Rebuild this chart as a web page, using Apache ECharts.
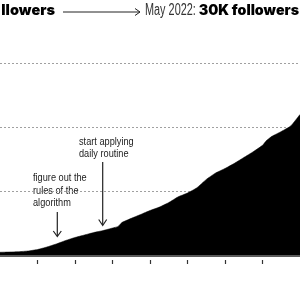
<!DOCTYPE html>
<html>
<head>
<meta charset="utf-8">
<script src="https://cdn.jsdelivr.net/npm/echarts@6/dist/echarts.min.js"></script>
<style>
html,body{margin:0;padding:0;background:#fff;}
#chart{width:300px;height:300px;}
</style>
</head>
<body>
<div id="chart"></div>
<script>
// time position in tick units, follower count in thousands
var timeSteps = [0, 0.25, 0.5, 0.75, 1, 1.25, 1.5, 1.75, 2, 2.25, 2.5, 2.75, 3, 3.15, 3.25, 3.5, 3.75, 4, 4.25, 4.5, 4.75, 5, 5.25, 5.5, 5.75, 6, 6.25, 6.5, 6.75, 7, 7.1, 7.25, 7.5, 7.75, 8];
var followersK = [0.58, 0.62, 0.67, 0.78, 1.01, 1.40, 1.87, 2.41, 2.88, 3.26, 3.65, 3.96, 4.35, 4.6, 5.2, 5.85, 6.45, 7.07, 7.6, 8.3, 9.2, 9.79, 10.6, 11.9, 12.9, 13.6, 14.4, 15.3, 16.2, 17.2, 17.9, 18.6, 19.35, 20.2, 22.0];
var tickPositions = [1, 2, 3, 4, 5, 6, 7];
var yTicks = [0, 10, 20, 30];
var titleLeft = 'llowers';
var titleDate = 'May 2022:';
var titleRight = '30K followers';
var note1 = 'figure out the\nrules of the\nalgorithm';
var note2 = 'start applying\ndaily routine';

var narrow = "'Liberation Sans', sans-serif";
var bold = "'Inter', 'Roboto', sans-serif";

var chart = echarts.init(document.getElementById('chart'), null, {renderer: 'canvas'});
var data = timeSteps.map(function (t, i) { return [t, followersK[i]]; });

chart.setOption({
  animation: false,
  backgroundColor: '#fff',
  grid: {left: -1.6, right: -5.1, top: 63, bottom: 44, containLabel: false},
  xAxis: [{
    type: 'value', min: 0, max: 8, interval: 1, z: 5,
    axisLine: {show: true, lineStyle: {color: '#5a5a5a', width: 2}},
    axisTick: {show: false}, axisLabel: {show: false}, splitLine: {show: false}
  }, {
    type: 'value', min: 0, max: 8, interval: 1, position: 'bottom', offset: 4,
    axisLine: {show: false},
    axisTick: {show: true, length: 4, customValues: tickPositions, lineStyle: {color: '#333', width: 1.2}},
    axisLabel: {show: false}, splitLine: {show: false}
  }],
  yAxis: {
    type: 'value', min: yTicks[0], max: yTicks[yTicks.length - 1], interval: 10,
    axisLine: {show: false}, axisTick: {show: false}, axisLabel: {show: false},
    splitLine: {show: true, lineStyle: {color: '#a0a0a0', width: 1, type: [2, 2]}}
  },
  series: [{
    type: 'line', xAxisIndex: 0, data: data, showSymbol: false, smooth: 0.15,
    lineStyle: {width: 0.5, color: '#000'},
    areaStyle: {color: '#000', opacity: 1}
  }],
  graphic: [
    {type: 'text', x: 55, y: 11, style: {text: titleLeft, fontFamily: bold, fontWeight: 900, fontSize: 14.5, fill: '#000', align: 'right', verticalAlign: 'middle'}},
    {type: 'line', shape: {x1: 63, y1: 12, x2: 140, y2: 12}, style: {stroke: '#222', lineWidth: 1}},
    {type: 'polyline', shape: {points: [[135, 8.5], [140, 12], [135, 15.5]]}, style: {stroke: '#222', lineWidth: 1, fill: null}},
    {type: 'text', x: 145, y: 11, scaleX: 0.68, style: {text: titleDate, fontFamily: narrow, fontSize: 16, fill: '#333', align: 'left', verticalAlign: 'middle'}},
    {type: 'text', x: 299, y: 11, style: {text: titleRight, fontFamily: bold, fontWeight: 900, fontSize: 14.2, fill: '#000', align: 'right', verticalAlign: 'middle'}},
    {type: 'text', x: 33, y: 172, scaleX: 0.8, style: {text: note1, fontFamily: narrow, fontSize: 11.5, lineHeight: 12.3, fill: '#222', align: 'left', verticalAlign: 'top'}},
    {type: 'line', shape: {x1: 57.3, y1: 212, x2: 57.3, y2: 236}, style: {stroke: '#222', lineWidth: 1.2}},
    {type: 'polyline', shape: {points: [[53.3, 231], [57.3, 236.5], [61.3, 231]]}, style: {stroke: '#222', lineWidth: 1.2, fill: null}},
    {type: 'text', x: 79, y: 135.5, scaleX: 0.8, style: {text: note2, fontFamily: narrow, fontSize: 11.5, lineHeight: 12.3, fill: '#222', align: 'left', verticalAlign: 'top'}},
    {type: 'line', shape: {x1: 102.7, y1: 162, x2: 102.7, y2: 225}, style: {stroke: '#222', lineWidth: 1.2}},
    {type: 'polyline', shape: {points: [[98.7, 219.5], [102.7, 225.5], [106.7, 219.5]]}, style: {stroke: '#222', lineWidth: 1.2, fill: null}}
  ]
});
</script>
</body>
</html>
